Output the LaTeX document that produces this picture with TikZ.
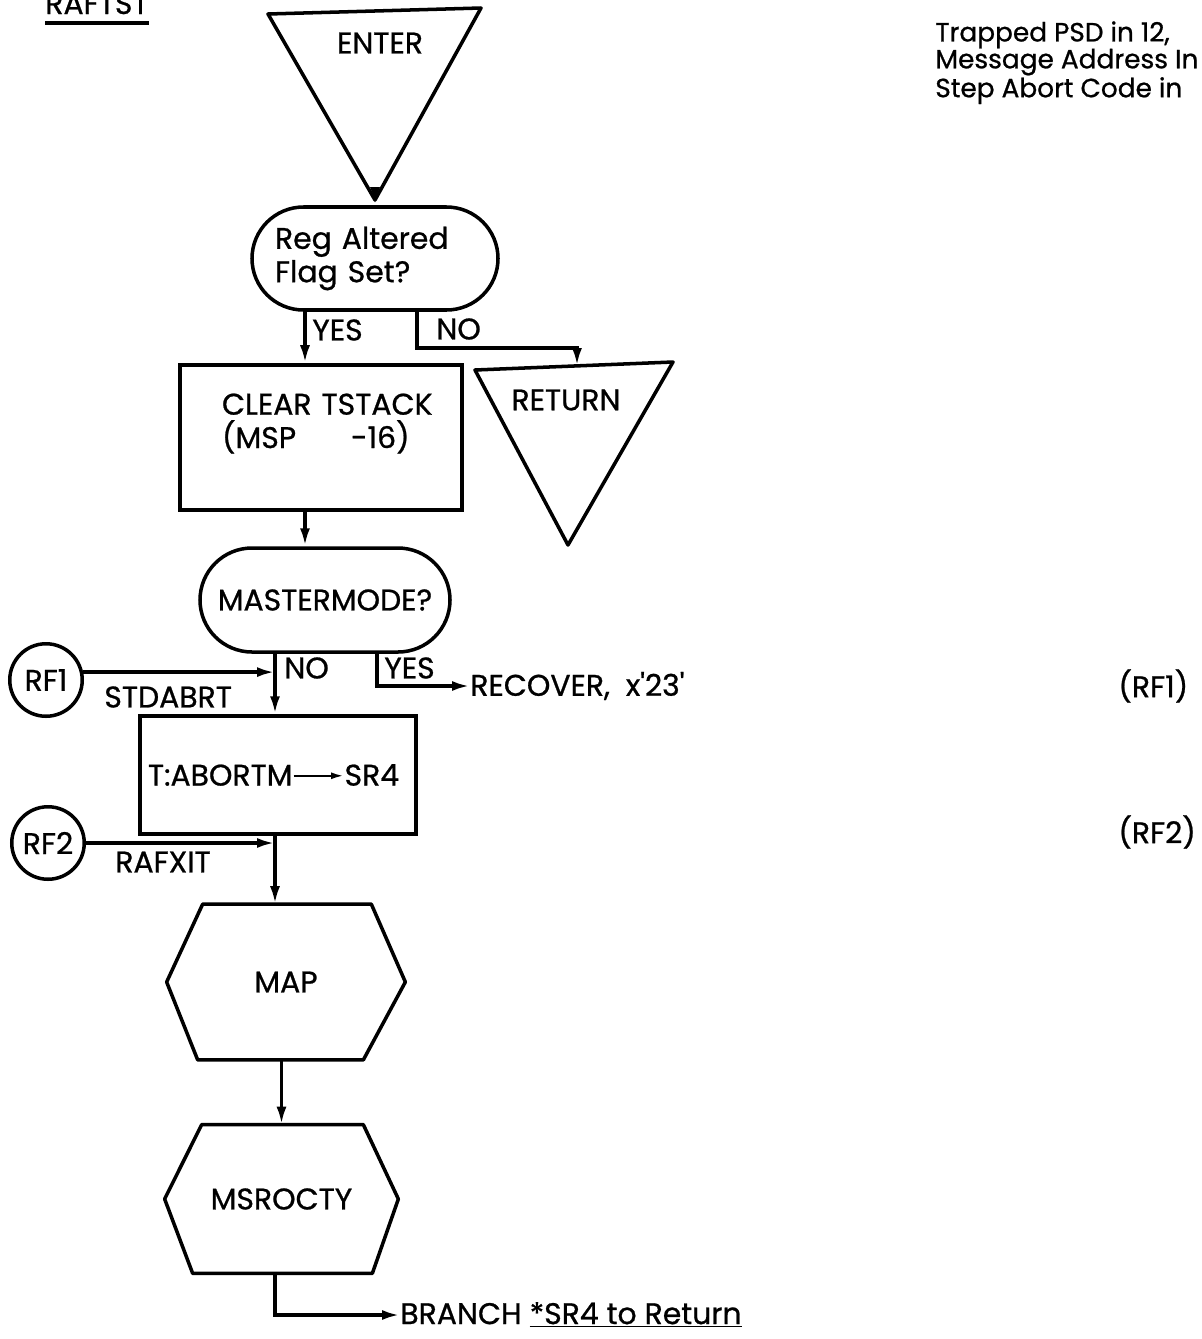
\documentclass[tikz,border=0pt]{standalone}
\usepackage{fontspec}
\setmainfont{Poppins}[FakeBold=0.8]
\usetikzlibrary{arrows.meta, shapes.misc}

\begin{document}
\begin{tikzpicture}[
  decision/.style={rounded rectangle, draw, line width=2pt, inner sep=0pt},
  process/.style={rectangle, draw, line width=2pt, inner sep=0pt},
  hexa/.style={rectangle, inner sep=0pt},
  connector/.style={circle, draw, line width=2pt, minimum size=1.45cm, inner sep=0pt},
  flow/.style={line width=2pt, -{Latex[length=0.36cm, width=0.2cm]}},
  outline/.style={line width=2pt, line join=round},
  tag/.style={inner sep=0pt, anchor=west},
  every node/.style={font=\fontsize{17}{19}\selectfont},
]
\useasboundingbox (0,0) rectangle (24.04,-26.78);

\node[anchor=base west, inner sep=0pt] (title) at (0.90, -0.28) {RAFTST};
\draw[line width=1.8pt] ([yshift=-0.18cm]title.base west) -- ([yshift=-0.18cm]title.base east);

\node[anchor=north west, align=left, inner sep=0pt, font=\fontsize{15}{15.3}\selectfont]
  (note) at (18.70, -0.42) {Trapped PSD in 12,\\Message Address In\\Step Abort Code in};

% entry
\draw[outline] (5.36, -0.28) -- (9.62, -0.16) -- (7.50, -4.00) -- cycle;
\coordinate (enterTip) at (7.50, -4.00);
\node (enter) at (7.60, -0.86) {ENTER};

\node[decision, minimum width=4.92cm, minimum height=2.06cm, text width=4cm, align=left]
  (regflag) at (7.50, -5.17) {Reg Altered\\Flag Set?};
\draw[flow] (enterTip) -- (regflag.north);

% return branch
\draw[outline] (9.50, -7.40) -- (13.46, -7.24) -- (11.36, -10.90) -- cycle;
\coordinate (retTop) at (11.54, -7.32);
\node (return) at (11.32, -8.00) {RETURN};

\node[process, minimum width=5.64cm, minimum height=2.90cm, text width=3.96cm, align=left]
  (clear) at (6.42, -8.75) {\mbox{CLEAR TSTACK}\\\mbox{(MSP\hspace{1.1cm}-16)}\\\mbox{}};

\draw[flow] ([xshift=-1.40cm]regflag.south) -- ([xshift=-1.40cm]regflag.south |- clear.north);
\draw[flow] ([xshift=0.84cm]regflag.south) -- ++(0, -0.72) -| (retTop);
\node[tag] (yes1) at (6.24, -6.60) {YES};
\node[tag] (no1) at (8.72, -6.58) {NO};

\node[decision, minimum width=5.00cm, minimum height=2.08cm] (master) at (6.50, -12.00) {MASTERMODE?};
\draw[flow] ([xshift=-0.32cm]clear.south) -- ([xshift=-0.32cm]clear.south |- master.north);

\node[process, minimum width=5.52cm, minimum height=2.36cm, text width=5.2cm, align=left]
  (abort) at (5.56, -15.50) {T:ABORTM\tikz[baseline=-0.6ex]\draw[line width=1.2pt, -{Latex[length=0.25cm, width=0.14cm]}] (0,0) -- (1.0cm,0);SR4};

\coordinate (noX) at ([xshift=-1.00cm]master.south);
\draw[flow] (noX) -- (noX |- abort.north);
\node[tag] (no2) at (5.68, -13.36) {NO};
\node[tag] (yes2) at (7.68, -13.36) {YES};
\node[tag] (recover) at (9.40, -13.72) {RECOVER,\ \ x\textquotesingle 23\textquotesingle};
\draw[flow] ([xshift=1.04cm]master.south) |- (recover.west);

% off-page connectors
\node[connector] (rf1) at (0.92, -13.60) {RF1};
\draw[flow] (rf1.12) -- (rf1.12 -| noX);
\node[tag] (stdabrt) at (2.08, -13.94) {STDABRT};

\node[connector] (rf2) at (0.96, -16.86) {RF2};
\draw[flow] (rf2) -- (rf2 -| noX);
\node[tag] (rafxit) at (2.30, -17.24) {RAFXIT};

\node[tag] (ref1) at (22.36, -13.72) {(RF1)};
\node[tag] (ref2) at (22.36, -16.64) {(RF2)};

% subroutine calls
\node[hexa, minimum width=4.76cm, minimum height=3.10cm] (map) at (5.72, -19.64) {MAP};
\draw[outline] ([xshift=0.72cm]map.north west) -- ([xshift=-0.68cm]map.north east) -- (map.east)
  -- ([xshift=-0.84cm]map.south east) -- ([xshift=0.62cm]map.south west) -- (map.west) -- cycle;
\draw[flow] (abort.south -| noX) -- (map.north -| noX);

\node[hexa, minimum width=4.66cm, minimum height=2.96cm] (msr) at (5.63, -23.98) {MSROCTY};
\draw[outline] ([xshift=0.74cm]msr.north west) -- ([xshift=-0.70cm]msr.north east) -- (msr.east)
  -- ([xshift=-0.52cm]msr.south east) -- ([xshift=0.56cm]msr.south west) -- (msr.west) -- cycle;
\draw[flow] (map.south -| msr.north) -- (msr.north);

\node[tag] (branch) at (8.00, -26.30) {BRANCH \underline{*SR4 to Return}};
\draw[flow] (msr.south -| noX) |- (branch.west);

\end{tikzpicture}
\end{document}
